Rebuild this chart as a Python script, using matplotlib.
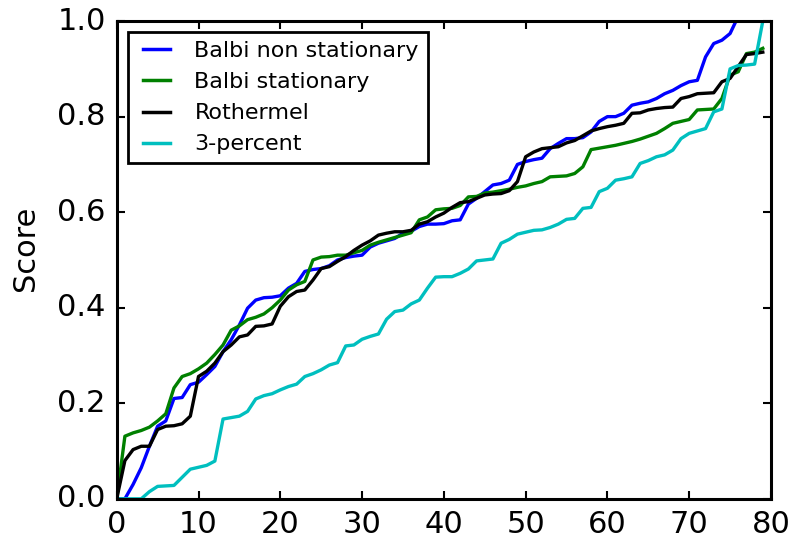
import numpy as np
import matplotlib
matplotlib.use("Agg")
import matplotlib.pyplot as plt

# sorted scores per run
balbi_non_stationary = [
	0.0, 0.0, 0.03, 0.065, 0.11, 0.152, 0.163, 0.21, 0.212, 0.239,
	0.244, 0.26, 0.277, 0.308, 0.333, 0.364, 0.399, 0.416, 0.421, 0.422,
	0.425, 0.441, 0.451, 0.476, 0.48, 0.482, 0.488, 0.5, 0.505, 0.508,
	0.51, 0.527, 0.535, 0.54, 0.545, 0.556, 0.56, 0.57, 0.575, 0.575,
	0.576, 0.582, 0.584, 0.617, 0.629, 0.643, 0.657, 0.66, 0.667, 0.70,
	0.706, 0.71, 0.713, 0.733, 0.744, 0.754, 0.754, 0.756, 0.768, 0.79,
	0.80, 0.80, 0.807, 0.824, 0.828, 0.831, 0.838, 0.848, 0.855, 0.865,
	0.873, 0.876, 0.925, 0.953, 0.96, 0.974, 1.01, 1.03, 1.05, 1.07]

balbi_stationary = [
	0.0, 0.131, 0.138, 0.143, 0.15, 0.163, 0.178, 0.232, 0.256, 0.262,
	0.272, 0.284, 0.302, 0.322, 0.353, 0.362, 0.375, 0.38, 0.387, 0.40,
	0.416, 0.437, 0.448, 0.455, 0.50, 0.506, 0.507, 0.51, 0.51, 0.515,
	0.52, 0.531, 0.537, 0.542, 0.547, 0.552, 0.557, 0.584, 0.59, 0.605,
	0.607, 0.608, 0.614, 0.632, 0.633, 0.64, 0.642, 0.645, 0.648, 0.652,
	0.655, 0.66, 0.664, 0.674, 0.675, 0.676, 0.681, 0.695, 0.731, 0.734,
	0.737, 0.74, 0.744, 0.748, 0.753, 0.759, 0.765, 0.775, 0.786, 0.79,
	0.794, 0.814, 0.815, 0.816, 0.838, 0.887, 0.894, 0.932, 0.935, 0.943]

rothermel = [
	0.0, 0.08, 0.103, 0.11, 0.11, 0.145, 0.152, 0.153, 0.157, 0.173,
	0.256, 0.267, 0.284, 0.308, 0.322, 0.339, 0.343, 0.361, 0.362, 0.366,
	0.403, 0.423, 0.434, 0.437, 0.458, 0.482, 0.486, 0.497, 0.507, 0.52,
	0.531, 0.54, 0.552, 0.556, 0.559, 0.559, 0.562, 0.575, 0.58, 0.59,
	0.598, 0.61, 0.62, 0.622, 0.629, 0.636, 0.638, 0.639, 0.645, 0.664,
	0.716, 0.726, 0.733, 0.735, 0.737, 0.745, 0.75, 0.76, 0.77, 0.775,
	0.779, 0.782, 0.786, 0.807, 0.808, 0.814, 0.817, 0.819, 0.82, 0.838,
	0.842, 0.848, 0.849, 0.85, 0.873, 0.88, 0.905, 0.93, 0.932, 0.935]

three_percent = [
	0.0, 0.0, 0.0, 0.0, 0.015, 0.026, 0.027, 0.028, 0.045, 0.062,
	0.066, 0.07, 0.079, 0.167, 0.17, 0.173, 0.183, 0.209, 0.216, 0.22,
	0.228, 0.235, 0.24, 0.256, 0.262, 0.27, 0.28, 0.285, 0.32, 0.322,
	0.334, 0.34, 0.345, 0.376, 0.392, 0.395, 0.408, 0.416, 0.441, 0.464,
	0.465, 0.465, 0.472, 0.481, 0.498, 0.5, 0.502, 0.535, 0.543, 0.554,
	0.558, 0.562, 0.563, 0.568, 0.575, 0.585, 0.587, 0.608, 0.61, 0.643,
	0.65, 0.667, 0.67, 0.674, 0.702, 0.708, 0.716, 0.72, 0.73, 0.754,
	0.765, 0.77, 0.775, 0.81, 0.816, 0.90, 0.907, 0.908, 0.91, 1.0]

series = [
	(balbi_non_stationary, 'b', 'Balbi non stationary'),
	(balbi_stationary, 'g', 'Balbi stationary'),
	(rothermel, 'k', 'Rothermel'),
	(three_percent, 'c', '3-percent'),
]

plt.style.use('classic')
plt.rcParams['axes.linewidth'] = 2.2
plt.rcParams['xtick.major.width'] = 1.5
plt.rcParams['ytick.major.width'] = 1.5
plt.rcParams['xtick.major.size'] = 6
plt.rcParams['ytick.major.size'] = 6

fig = plt.figure(figsize=(7.94, 5.41), dpi=100, facecolor='white')
ax = fig.add_axes([0.147, 0.078, 0.824, 0.883])

for values, color, label in series:
	ax.plot(np.arange(len(values)), values, color=color, linewidth=2.4, label=label)

ax.set_xlim(0, 80)
ax.set_ylim(0, 1.0)
ax.set_xticks(np.arange(0, 81, 10))
ax.set_yticks(np.arange(0, 1.01, 0.2))
ax.tick_params(labelsize=22, pad=8)
ax.set_ylabel('Score', fontsize=22)
ax.yaxis.set_label_coords(-0.118, 0.524)

leg = ax.legend(loc='upper left', fontsize=16, handlelength=1.8)
leg.get_frame().set_linewidth(2)
for line in leg.get_lines():
	line.set_linewidth(2.5)

fig.savefig('out.png', dpi=100, facecolor='white')
